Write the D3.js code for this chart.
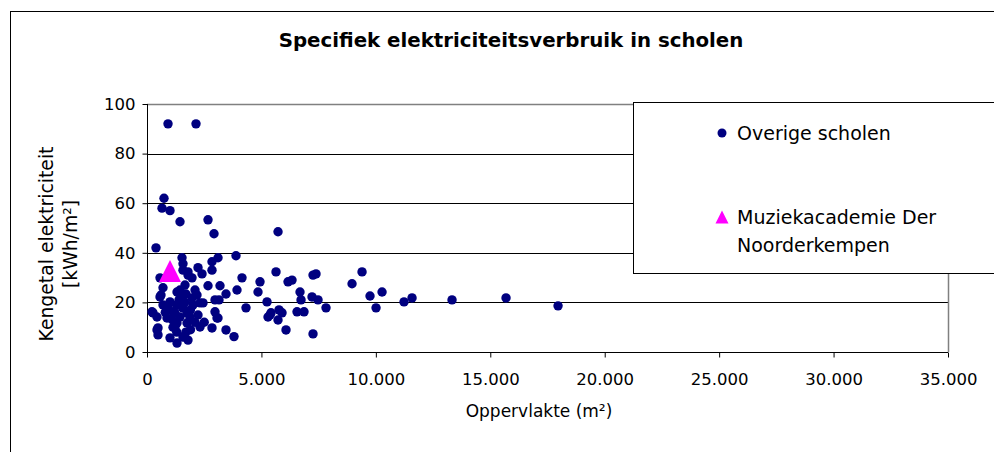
<!DOCTYPE html>
<html>
<head>
<meta charset="utf-8">
<script src="https://cdn.jsdelivr.net/npm/d3@7"></script>
<style>
  body { margin: 0; background: #fff; }
  svg { display: block; font-family: "DejaVu Sans", sans-serif; }
</style>
</head>
<body>
<div id="chart"></div>
<script>
// oppervlakte (m²) and kengetal (kWh/m²) of the other schools
var schoolArea = [
  918, 2141, 743, 656, 1005, 1442, 2666, 5725, 2928, 393,
  1530, 3103, 3889, 2840, 1573, 2229, 1792, 2840, 2404, 1967, 568, 5637, 4151, 4938, 6162, 6337, 7254, 7385, 9396, 8959,
  699, 1661, 2666, 3190, 2098, 1311, 612, 3933, 3452, 4851, 1704, 2185, 2972, 3146, 1442, 1573, 1792,
  218, 437, 874, 1136, 1573, 2010, 2447, 1442, 1879, 2972, 3059, 4326, 5244, 5288, 5419, 5768, 5900, 5725, 6555, 6861,
  481, 481, 1224, 2316, 2840, 3452, 1005, 1311, 1573, 1792, 3802, 6074,
  568, 262, 918, 1224, 874, 1530, 1748, 1311, 1748, 2229, 3103, 437, 1136, 1005, 1530, 1967, 2316,
  6686, 6730, 7210, 5375, 7254, 7473, 7822, 9745, 10270, 10008, 11231, 11581, 13328, 15688, 17961,
  700, 800, 1300, 1400, 1650, 1100, 1900, 2100, 1700, 1300, 1900, 2500
];
var schoolValue = [
  92, 92, 62, 58, 57, 52.5, 53.3, 48.5, 47.7, 42,
  38, 38, 38.8, 36.4, 35.6, 34, 32.3, 33, 31.5, 29.9, 29.9, 32.3, 29.9, 28.3, 28.3, 29, 31, 31.5, 32.3, 27.5,
  25.9, 27, 26.7, 26.7, 25, 24.2, 23, 25, 23.4, 24.2, 23.4, 23, 21, 21, 25, 33, 31,
  16.2, 14.1, 18.2, 16.2, 17.8, 19, 19.8, 14.1, 14.1, 16.2, 13.7, 17.8, 20.2, 14.1, 15.8, 17, 15.8, 12.9, 16.2, 16.2,
  9.7, 6.9, 10.1, 10.1, 9.7, 8.9, 5.7, 3.6, 6, 4.8, 6.2, 8.9,
  22.2, 15.8, 18.2, 15.8, 13.7, 18.2, 15.8, 11.7, 11.7, 14.9, 13.7, 8.9, 10, 20.2, 21.8, 21.8, 19.8,
  24.2, 21, 22.2, 14.9, 7.3, 21, 17.8, 22.6, 24.2, 17.8, 20.2, 21.8, 21, 21.8, 18.6,
  19, 16, 19, 21, 20, 13, 17, 12, 8, 8, 9, 12
];
var academyArea = [1005];
var academyValue = [32.7];

var xTicks = [0, 5000, 10000, 15000, 20000, 25000, 30000, 35000];
var yTicks = [0, 20, 40, 60, 80, 100];
var seriesNames = ["Overige scholen", "Muziekacademie Der Noorderkempen"];

var width = 994, height = 452;
var nl = d3.formatLocale({ decimal: ",", thousands: ".", grouping: [3], currency: ["€", ""] });
var fmt = nl.format(",");

var svg = d3.select("#chart").append("svg")
  .attr("width", width)
  .attr("height", height);

// outer chart frame
svg.append("rect")
  .attr("x", 10.5).attr("y", 11.5)
  .attr("width", 1000).attr("height", 500)
  .attr("fill", "#fff").attr("stroke", "#000");

var x = d3.scaleLinear().domain([0, 35000]).range([147, 948]);
var y = d3.scaleLinear().domain([0, 100]).range([352, 104]);

// gridlines
svg.append("g")
  .selectAll("line")
  .data(yTicks.filter(function(d) { return d > 0; }))
  .enter().append("line")
  .attr("x1", x(0)).attr("x2", x(35000))
  .attr("y1", function(d) { return Math.round(y(d)) + 0.5; })
  .attr("y2", function(d) { return Math.round(y(d)) + 0.5; })
  .attr("stroke", "#000");

// plot area border (top / right)
svg.append("path")
  .attr("d", "M" + x(0) + "," + (Math.round(y(100)) + 0.5) + "H" + (x(35000) + 0.5) + "V" + y(0))
  .attr("fill", "none").attr("stroke", "#808080").attr("stroke-width", 1.5);

var xAxis = svg.append("g")
  .attr("transform", "translate(0," + (Math.round(y(0)) + 0.5) + ")")
  .call(d3.axisBottom(x).tickValues(xTicks).tickFormat(fmt).tickSize(5).tickPadding(16));
var yAxis = svg.append("g")
  .attr("transform", "translate(" + (Math.round(x(0)) + 0.5) + ",0)")
  .call(d3.axisLeft(y).tickValues(yTicks).tickSize(5).tickPadding(7));

[xAxis, yAxis].forEach(function(a) {
  a.select(".domain").attr("stroke", "#000");
  a.selectAll(".tick line").attr("stroke", "#000");
  a.selectAll("text")
    .attr("font-family", "DejaVu Sans, sans-serif")
    .attr("font-size", 16.5)
    .attr("fill", "#000");
});
xAxis.select(".domain").attr("d", "M" + x(0) + ",0H" + x(35000));
yAxis.select(".domain").attr("d", "M0," + y(0) + "V" + y(100));

// points
var schools = schoolArea.map(function(a, i) { return { area: a, value: schoolValue[i] }; });
svg.append("g")
  .selectAll("circle")
  .data(schools)
  .enter().append("circle")
  .attr("cx", function(d) { return x(d.area); })
  .attr("cy", function(d) { return y(d.value); })
  .attr("r", 4.7)
  .attr("fill", "#000080");

function triangle(cx, cy, s) {
  return "M" + cx + "," + (cy - s) + "L" + (cx + s) + "," + (cy + s) + "L" + (cx - s) + "," + (cy + s) + "Z";
}

svg.append("g")
  .selectAll("path")
  .data(academyArea.map(function(a, i) { return { area: a, value: academyValue[i] }; }))
  .enter().append("path")
  .attr("d", function(d) { return triangle(x(d.area), y(d.value), 11); })
  .attr("fill", "#ff00ff");

// title
svg.append("text")
  .attr("x", 511).attr("y", 47)
  .attr("text-anchor", "middle")
  .attr("font-weight", "bold")
  .attr("font-size", 19.8)
  .text("Specifiek elektriciteitsverbruik in scholen");

// axis titles
svg.append("text")
  .attr("x", 539).attr("y", 417)
  .attr("text-anchor", "middle")
  .attr("font-size", 17)
  .text("Oppervlakte (m²)");

var yTitle = svg.append("text")
  .attr("transform", "translate(53,244) rotate(-90)")
  .attr("text-anchor", "middle")
  .attr("font-size", 18.8);
yTitle.append("tspan").attr("x", 0).attr("dy", 0).text("Kengetal elektriciteit");
yTitle.append("tspan").attr("x", 0).attr("dy", 24).text("[kWh/m²]");

// legend
var legend = svg.append("g");
legend.append("rect")
  .attr("x", 633.5).attr("y", 102.5)
  .attr("width", 400).attr("height", 171)
  .attr("fill", "#fff").attr("stroke", "#000");
legend.append("circle")
  .attr("cx", 722).attr("cy", 133).attr("r", 4.5)
  .attr("fill", "#000080");
legend.append("text")
  .attr("x", 737).attr("y", 140)
  .attr("font-size", 19)
  .text(seriesNames[0]);
legend.append("path")
  .attr("d", triangle(722, 217, 6.5))
  .attr("fill", "#ff00ff");
var lt = legend.append("text")
  .attr("x", 737).attr("y", 224)
  .attr("font-size", 19);
lt.append("tspan").attr("x", 737).text("Muziekacademie Der");
lt.append("tspan").attr("x", 737).attr("dy", 28).text("Noorderkempen");
</script>
</body>
</html>
